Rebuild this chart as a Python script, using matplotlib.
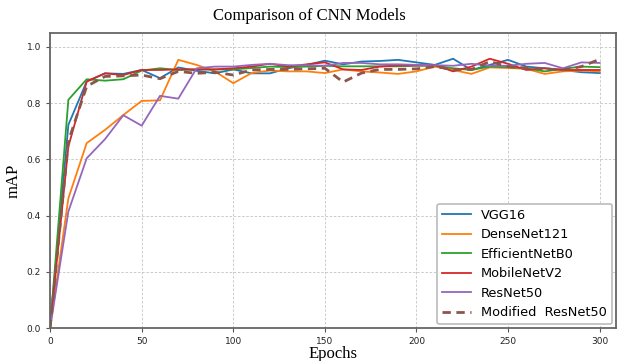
import numpy as np
import matplotlib.pyplot as plt

epochs = list(range(0, 301, 10))

vgg16 = [0.0, 0.723, 0.877, 0.906, 0.904, 0.918, 0.889, 0.927, 0.915, 0.906,
         0.92, 0.906, 0.906, 0.924, 0.936, 0.951, 0.938, 0.948, 0.95, 0.954,
         0.945, 0.936, 0.958, 0.918, 0.936, 0.954, 0.93, 0.924, 0.918, 0.91, 0.907]
densenet121 = [0.0, 0.462, 0.658, 0.705, 0.758, 0.808, 0.81, 0.954, 0.936, 0.913,
               0.871, 0.907, 0.916, 0.913, 0.913, 0.907, 0.92, 0.913, 0.909, 0.904,
               0.913, 0.93, 0.918, 0.904, 0.927, 0.925, 0.922, 0.904, 0.913, 0.916, 0.913]
efficientnetb0 = [0.0, 0.812, 0.885, 0.88, 0.885, 0.916, 0.924, 0.918, 0.92, 0.92,
                  0.92, 0.925, 0.93, 0.928, 0.93, 0.933, 0.931, 0.931, 0.931, 0.931,
                  0.933, 0.933, 0.924, 0.918, 0.93, 0.928, 0.924, 0.913, 0.922, 0.93, 0.928]
mobilenetv2 = [0.0, 0.646, 0.877, 0.906, 0.9, 0.918, 0.918, 0.92, 0.92, 0.92,
               0.924, 0.93, 0.94, 0.93, 0.938, 0.945, 0.92, 0.918, 0.93, 0.934,
               0.934, 0.936, 0.913, 0.93, 0.958, 0.94, 0.918, 0.924, 0.918, 0.918, 0.918]
resnet50 = [0.0, 0.415, 0.604, 0.672, 0.757, 0.72, 0.826, 0.816, 0.924, 0.93,
            0.93, 0.936, 0.94, 0.935, 0.935, 0.933, 0.943, 0.943, 0.938, 0.938,
            0.936, 0.935, 0.933, 0.94, 0.933, 0.933, 0.94, 0.943, 0.924, 0.945, 0.943]
modified_resnet50 = [0.0, 0.665, 0.86, 0.895, 0.897, 0.9, 0.887, 0.913, 0.906, 0.91,
                     0.9, 0.918, 0.92, 0.92, 0.922, 0.924, 0.875, 0.907, 0.92, 0.92,
                     0.922, 0.93, 0.92, 0.92, 0.948, 0.93, 0.925, 0.922, 0.918, 0.93, 0.956]

fig, ax = plt.subplots(figsize=(6.18, 3.61), dpi=100)
fig.subplots_adjust(left=0.081, right=0.997, bottom=0.091, top=0.909)

ax.plot(epochs, vgg16, color="tab:blue", lw=1.3, label="VGG16")
ax.plot(epochs, densenet121, color="tab:orange", lw=1.3, label="DenseNet121")
ax.plot(epochs, efficientnetb0, color="tab:green", lw=1.3, label="EfficientNetB0")
ax.plot(epochs, mobilenetv2, color="tab:red", lw=1.3, label="MobileNetV2")
ax.plot(epochs, resnet50, color="tab:purple", lw=1.3, label="ResNet50")
ax.plot(epochs, modified_resnet50, color="tab:brown", lw=2.0, ls=(0, (3, 2)),
        label="Modified  ResNet50")

# format plot
ax.set_xlim(0, 309)
ax.set_ylim(0, 1.05)
ax.set_xticks([0, 50, 100, 150, 200, 250, 300])
ax.set_yticks([0.0, 0.2, 0.4, 0.6, 0.8, 1.0])
ax.tick_params(labelsize=6.5, length=3, color="#555555", labelcolor="#222222")
ax.grid(True, ls=(0, (3, 2)), lw=0.6, color="#c4c4c4")
for s in ax.spines.values():
    s.set_color("#666666")
    s.set_linewidth(1.3)

serif = ["Liberation Serif", "DejaVu Serif"]
fig.text(0.5, 0.955, "Comparison of CNN Models", family=serif, fontsize=12,
         ha="center", va="center")
ax.set_xlabel("Epochs", family=serif, fontsize=12, labelpad=0)
ax.set_ylabel("mAP", family=serif, fontsize=12, labelpad=4)

leg = ax.legend(loc="lower right", fontsize=9.3, framealpha=1.0, edgecolor="#bbbbbb",
                handlelength=2.2, borderaxespad=0.3, labelspacing=0.5)
leg.get_frame().set_linewidth(1.2)

plt.savefig("out.png")
